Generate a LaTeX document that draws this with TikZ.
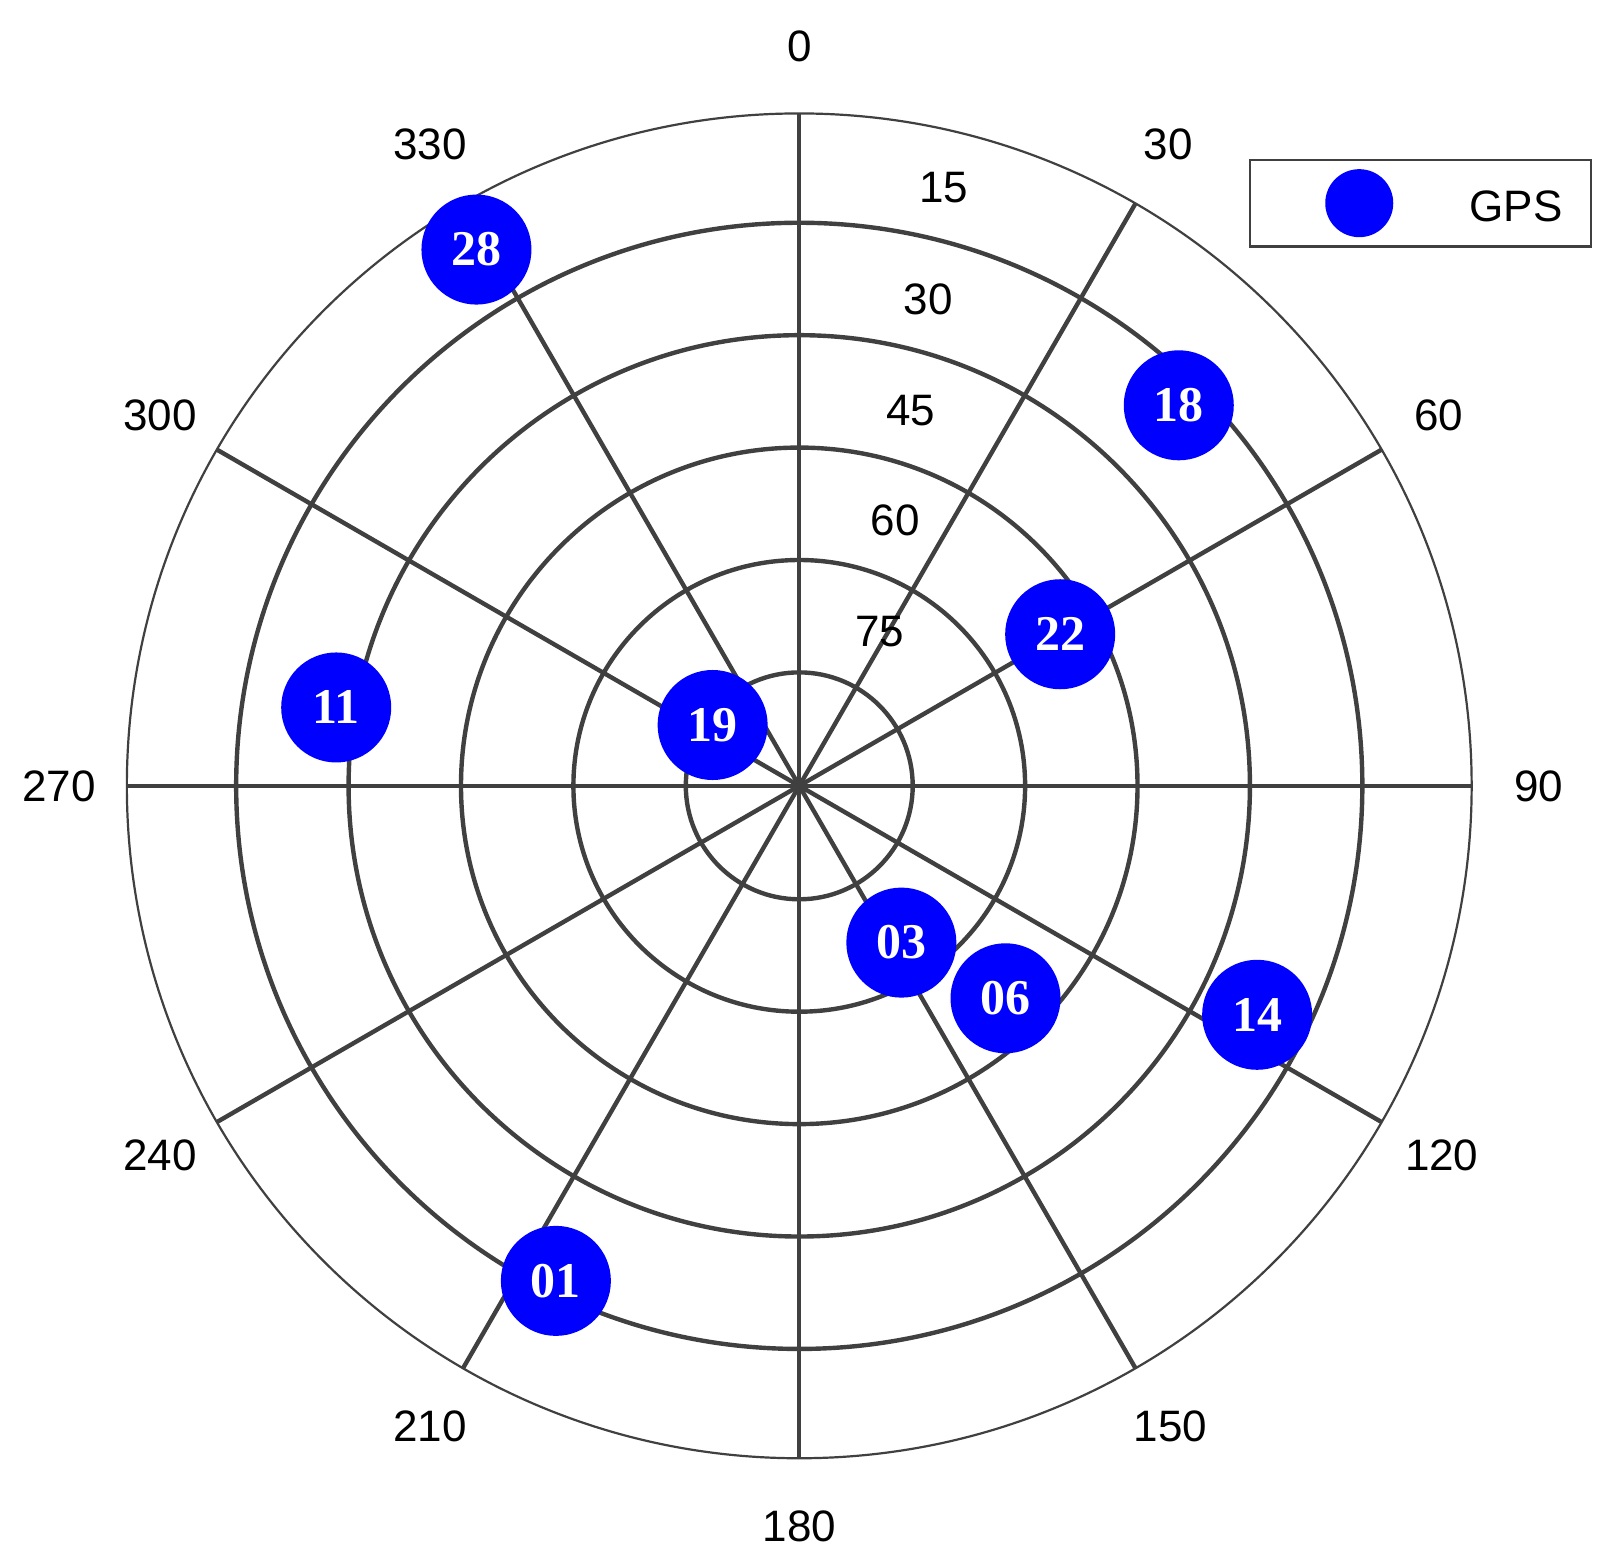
\documentclass[tikz,border=0pt]{standalone}
\usepackage{fontspec}
\setmainfont{Liberation Serif}
\newfontfamily\arialf{Liberation Sans}
\begin{document}
\begin{tikzpicture}[x=0.5155pt,y=-0.5155pt,
  grid/.style={draw=black!75,line width=2.2pt},
  sat/.style={circle,fill=blue,minimum size=55pt,inner sep=0pt,text=white,font=\fontsize{25}{27}\selectfont\bfseries},
  lab/.style={font=\arialf\fontsize{22}{25}\selectfont}]
\useasboundingbox (0,0) rectangle (1566,1513);
\coordinate (c) at (775,762);
\foreach \r in {110,219,328,437,546} \draw[grid] (c) circle (\r);
\draw[draw=black!75,line width=1.1pt] (c) circle (652);
\foreach \a in {0,30,...,330} \draw[grid] (c) -- ++(90-\a:652) coordinate (s\a);
\foreach \n/\x/\y in {0/775/45,30/1133/140,60/1395/403,90/1492/762,120/1398/1120,150/1135/1383,180/775/1480,210/417/1383,240/155/1120,270/57/762,300/155/403,330/417/140}
  \node[lab] (a\n) at (\x,\y) {\n};
\foreach \n/\x/\y in {15/915/182,30/900/290,45/883/398,60/868/505,75/853/612}
  \node[lab] (e\n) at (\x,\y) {\n};
\foreach \n/\x/\y in {28/462/242,18/1143/393,22/1028/615,11/326/686,19/691/703,03/874/914,06/975/968,14/1219/984,01/539/1242}
  \node[sat] (g\n) at (\x,\y) {\n};
\node[draw=black!75,line width=1.1pt,minimum width=170.6pt,minimum height=43.3pt] (leg) at (1377.5,197) {};
\node[circle,fill=blue,minimum size=34pt,inner sep=0pt] (lm) at (1318,197) {};
\node[lab] (lt) at (1470,200) {GPS};
\end{tikzpicture}
\end{document}
